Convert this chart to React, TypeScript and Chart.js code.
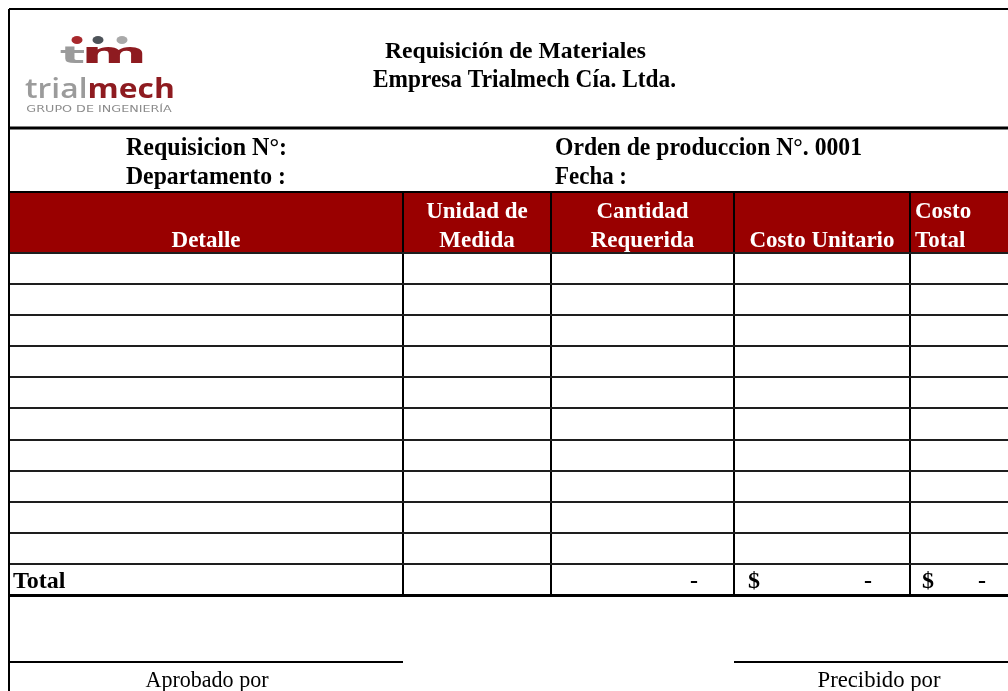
import React, { useEffect, useRef } from 'react';
import { Chart, registerables } from 'chart.js';

Chart.register(...registerables);

// ---- content ----
const titleLines = ['Requisición de Materiales', 'Empresa Trialmech Cía. Ltda.'];
const infoLeft = ['Requisicion N°:', 'Departamento :'];
const infoRight = ['Orden de produccion N°. 0001', 'Fecha :'];
const headerLine1 = ['', 'Unidad de', 'Cantidad', '', 'Costo'];
const headerLine2 = ['Detalle', 'Medida', 'Requerida', 'Costo Unitario', 'Total'];
const emptyRowCount = 10;
const totalLabel = 'Total';
const totalQuantity = '-';
const totalUnitCost = '-';
const totalCost = '-';
const currencySymbol = '$';
const signatures = ['Aprobado por', 'Precibido por'];
const logoMark = ['t', 'm'];
const logoWords = ['trial', 'mech'];
const logoTagline = 'GRUPO DE INGENIERÍA';

// ---- layout ----
const W = 1008;
const H = 691;
const FRAME = 9;
const COL_EDGES = [9, 403, 551, 734, 910];
const HEADER_UNITS = 1.96;
const TABLE_TOP = 192;
const TABLE_BOTTOM = 595;
const RED = '#990000';
const LOGO_RED = '#8e1b20';
const LOGO_GRAY = '#9b9b9b';
const SERIF = '"Liberation Serif", "Times New Roman", serif';

export default function App() {
  const ref = useRef<HTMLCanvasElement | null>(null);

  useEffect(() => {
    if (!ref.current) return;
    const rowCount = emptyRowCount + 1;
    const yEdges = [0, ...Array.from({ length: rowCount + 1 }, (_, i) => HEADER_UNITS + i)];
    const yMax = HEADER_UNITS + rowCount;

    const line = (c: CanvasRenderingContext2D, x1: number, y1: number, x2: number, y2: number, w: number, col = '#000') => {
      c.beginPath();
      c.strokeStyle = col;
      c.lineWidth = w;
      c.moveTo(x1, y1);
      c.lineTo(x2, y2);
      c.stroke();
    };

    // text drawn with optional horizontal fit to a target width
    const text = (
      c: CanvasRenderingContext2D,
      s: string,
      x: number,
      y: number,
      font: string,
      color: string,
      align: 'left' | 'center' | 'right' = 'left',
      width?: number
    ) => {
      c.font = font;
      const m = c.measureText(s).width;
      const k = width ? width / m : 1;
      const w = m * k;
      const left = align === 'left' ? x : align === 'center' ? x - w / 2 : x - w;
      c.save();
      c.translate(left, y);
      c.scale(k, 1);
      c.fillStyle = color;
      c.textAlign = 'left';
      c.textBaseline = 'alphabetic';
      c.fillText(s, 0, 0);
      c.restore();
    };

    // text whose ink box is stretched into the given box
    const fitBox = (c: CanvasRenderingContext2D, s: string, left: number, top: number, w: number, h: number, font: string, color: string) => {
      c.font = font;
      c.textAlign = 'left';
      c.textBaseline = 'alphabetic';
      const m = c.measureText(s);
      const iw = m.actualBoundingBoxLeft + m.actualBoundingBoxRight;
      const ih = m.actualBoundingBoxAscent + m.actualBoundingBoxDescent;
      const sx = w / iw;
      const sy = h / ih;
      c.save();
      c.translate(left, top);
      c.scale(sx, sy);
      c.fillStyle = color;
      c.fillText(s, m.actualBoundingBoxLeft, m.actualBoundingBoxAscent);
      c.restore();
    };

    const drawLogo = (c: CanvasRenderingContext2D) => {
      const dots: [number, string][] = [[77, '#a8282c'], [98, '#4d5359'], [122, '#a9a9a9']];
      dots.forEach(([x, col]) => {
        c.beginPath();
        c.fillStyle = col;
        c.ellipse(x, 40, 5.5, 4, 0, 0, Math.PI * 2);
        c.fill();
      });
      fitBox(c, logoMark[0], 60, 46, 25, 17, 'bold 40px "DejaVu Sans"', LOGO_GRAY);
      fitBox(c, logoMark[1], 86, 47, 57, 16, 'bold 40px "DejaVu Sans"', LOGO_RED);

      // wordmark "trial" + "mech"
      const f1 = '600 40px "Open Sans"';
      const f2 = 'bold 40px "Open Sans"';
      c.font = f1;
      const m1 = c.measureText(logoWords[0]);
      c.font = f2;
      const m2 = c.measureText(logoWords[1]);
      const total = m1.actualBoundingBoxLeft + m1.width + m2.actualBoundingBoxRight;
      const kx = 148 / total;
      const asc = m2.actualBoundingBoxAscent;
      const ky = 20 / asc;
      const baseY = 98;
      c.save();
      c.translate(25, baseY);
      c.scale(kx, ky);
      c.textAlign = 'left';
      c.textBaseline = 'alphabetic';
      c.font = f1;
      c.fillStyle = LOGO_GRAY;
      c.fillText(logoWords[0], m1.actualBoundingBoxLeft, 0);
      c.font = f2;
      c.fillStyle = LOGO_RED;
      c.fillText(logoWords[1], m1.actualBoundingBoxLeft + m1.width, 0);
      c.restore();

      fitBox(c, logoTagline, 27, 104, 145, 7.5, '20px "DejaVu Sans"', '#8c8c8c');
    };

    const formPlugin = {
      id: 'form',
      beforeDraw(chart: any) {
        const c = chart.ctx as CanvasRenderingContext2D;
        const ys = chart.scales.y;
        const top = ys.getPixelForValue(0);
        const bot = ys.getPixelForValue(HEADER_UNITS);
        c.save();
        c.fillStyle = '#fff';
        c.fillRect(0, 0, W, H);
        c.fillStyle = RED;
        c.fillRect(FRAME, top, W - FRAME, bot - top);
        c.restore();
      },
      afterDraw(chart: any) {
        const c = chart.ctx as CanvasRenderingContext2D;
        const xs = chart.scales.x;
        const ys = chart.scales.y;
        const px = (v: number) => xs.getPixelForValue(v);
        c.save();
        // frame
        line(c, FRAME, FRAME, FRAME, H, 2);
        line(c, FRAME, FRAME, W, FRAME, 2);
        line(c, FRAME, 128, W, 128, 3);

        drawLogo(c);

        const b = (size: number) => `bold ${size}px ${SERIF}`;
        text(c, titleLines[0], 385, 58, b(23), '#000', 'left', 261);
        text(c, titleLines[1], 373, 87, b(25), '#000', 'left', 303);
        text(c, infoLeft[0], 126, 155, b(25), '#000', 'left', 161);
        text(c, infoLeft[1], 126, 184, b(25), '#000', 'left', 160);
        text(c, infoRight[0], 555, 155, b(25), '#000', 'left', 307);
        text(c, infoRight[1], 555, 184, b(25), '#000', 'left', 72);

        // header
        const hTop = ys.getPixelForValue(0);
        COL_EDGES.forEach((edge, i) => {
          const l = px(edge);
          const r = i + 1 < COL_EDGES.length ? px(COL_EDGES[i + 1]) : W;
          const last = i === COL_EDGES.length - 1;
          const x = last ? l + 5 : (l + r) / 2;
          const al = last ? 'left' : 'center';
          if (headerLine1[i]) text(c, headerLine1[i], x, hTop + 26, b(23), '#fff', al as any);
          if (headerLine2[i]) text(c, headerLine2[i], x, hTop + 55, b(23), '#fff', al as any);
        });

        // total row
        const ty = ys.getPixelForValue(yMax - 0.5) + 9;
        text(c, totalLabel, px(COL_EDGES[0]) + 4, ty, b(24), '#000', 'left');
        text(c, totalQuantity, px(COL_EDGES[3]) - 36, ty, b(24), '#000', 'right');
        text(c, currencySymbol, px(COL_EDGES[3]) + 14, ty, b(24), '#000', 'left');
        text(c, totalUnitCost, px(COL_EDGES[4]) - 38, ty, b(24), '#000', 'right');
        text(c, currencySymbol, px(COL_EDGES[4]) + 12, ty, b(24), '#000', 'left');
        text(c, totalCost, W - 22, ty, b(24), '#000', 'right');

        // signatures
        line(c, FRAME, 662, px(COL_EDGES[1]), 662, 2);
        line(c, px(COL_EDGES[3]), 662, W, 662, 2);
        text(c, signatures[0], 207, 687, `23px ${SERIF}`, '#000', 'center', 123);
        text(c, signatures[1], 879, 687, `23px ${SERIF}`, '#000', 'center', 123);
        c.restore();
      },
    };

    const chart = new Chart(ref.current, {
      type: 'scatter',
      data: { datasets: [] },
      options: {
        animation: false,
        responsive: false,
        devicePixelRatio: 1,
        events: [],
        layout: { padding: { left: FRAME, right: 0, top: TABLE_TOP, bottom: H - TABLE_BOTTOM } },
        plugins: { legend: { display: false }, tooltip: { enabled: false }, title: { display: false } },
        scales: {
          x: {
            type: 'linear',
            min: COL_EDGES[0],
            max: W,
            afterBuildTicks: (s: any) => {
              s.ticks = COL_EDGES.map((v) => ({ value: v }));
            },
            grid: { color: '#000', lineWidth: 2, drawTicks: false },
            ticks: { display: false },
            border: { display: false },
          },
          y: {
            type: 'linear',
            reverse: true,
            min: 0,
            max: yMax,
            afterBuildTicks: (s: any) => {
              s.ticks = yEdges.map((v) => ({ value: v }));
            },
            grid: {
              color: (ctx: any) => (ctx.tick && (ctx.tick.value === 0 || ctx.tick.value === yMax) ? '#000' : '#1e1e1e'),
              lineWidth: (ctx: any) => (ctx.tick && ctx.tick.value === yMax ? 3 : 2),
              drawTicks: false,
            },
            ticks: { display: false },
            border: { display: false },
          },
        },
      },
      plugins: [formPlugin],
    } as any);

    return () => chart.destroy();
  }, []);

  return (
    <div style={{ position: 'absolute', left: 0, top: 0, width: W, height: H }}>
      <canvas ref={ref} width={W} height={H} style={{ display: 'block' }} />
    </div>
  );
}
